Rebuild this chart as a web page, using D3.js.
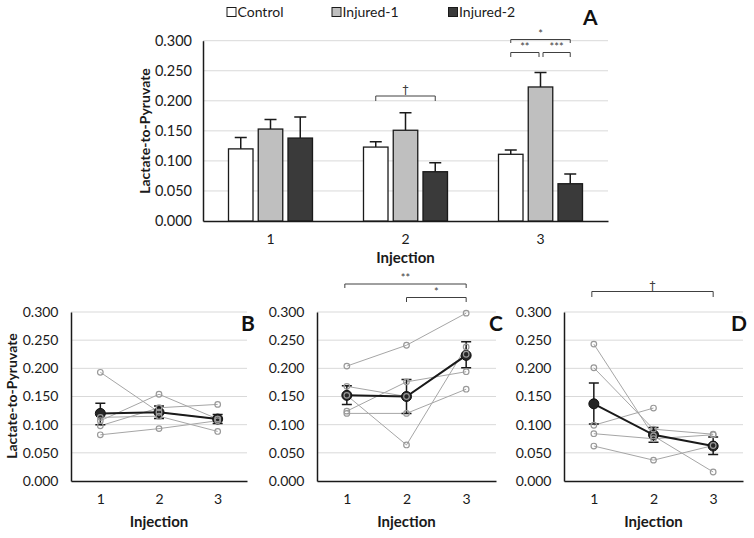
<!DOCTYPE html>
<html><head><meta charset="utf-8">
<script src="https://cdn.jsdelivr.net/npm/d3@7"></script>
<style>
body{margin:0;background:#fff;}
svg{font-family:Lato,"Open Sans",sans-serif;}
</style></head>
<body>
<svg id="chart" width="754" height="538"></svg>
<script>
// ---------- data ----------
const injections = ["1", "2", "3"];
const series = ["Control", "Injured-1", "Injured-2"];
const seriesColors = ["#ffffff", "#bfbfbf", "#3a3a3a"];
const controlMean = [0.120, 0.123, 0.111];
const injured1Mean = [0.153, 0.151, 0.223];
const injured2Mean = [0.138, 0.082, 0.062];
const controlErr = [0.019, 0.009, 0.007];
const injured1Err = [0.016, 0.029, 0.024];
const injured2Err = [0.035, 0.015, 0.016];
const yTicks = [0, 0.05, 0.10, 0.15, 0.20, 0.25, 0.30];

const panelBSubjects = [[0.193,0.122,0.110],[0.107,0.154,0.110],[0.098,0.130,0.136],[0.113,0.115,0.088],[0.082,0.093,0.107]];
const panelBMean = [0.120, 0.122, 0.110];
const panelBLow  = [0.100, 0.111, 0.102];
const panelBHigh = [0.138, 0.133, 0.118];

const panelCSubjects = [[0.204,0.241,0.298],[0.168,0.150,0.225],[0.124,0.176,0.194],[0.120,0.120,0.163],[0.152,0.064,0.238]];
const panelCMean = [0.152, 0.150, 0.223];
const panelCLow  = [0.136, 0.120, 0.201];
const panelCHigh = [0.169, 0.180, 0.247];

const panelDSubjects = [[0.243,0.080,0.016],[0.201,0.092,0.083],[0.099,0.1295,null],[0.084,0.075,0.082],[0.062,0.037,0.063]];
const panelDMean = [0.137, 0.082, 0.062];
const panelDLow  = [0.101, 0.069, 0.047];
const panelDHigh = [0.174, 0.095, 0.078];

// ---------- drawing ----------
const svg = d3.select("#chart");
const fmt = d3.format(".3f");
const gridColor = "#d9d9d9", axisColor = "#1a1a1a", textColor = "#1a1a1a";

function drawFrame(g, x, y, left, right, top, bottom, labelGap, fs) {
  g.append("g").selectAll("line").data(yTicks.filter(d => d > 0)).join("line")
    .attr("x1", left).attr("x2", right)
    .attr("y1", d => y(d)).attr("y2", d => y(d))
    .attr("stroke", gridColor).attr("stroke-width", 1);
  const ya = g.append("g").attr("transform", `translate(${left},0)`)
    .call(d3.axisLeft(y).tickValues(yTicks).tickFormat(fmt).tickSize(0).tickPadding(labelGap));
  ya.select(".domain").attr("stroke", axisColor).attr("stroke-width", 1.5);
  ya.selectAll("text").attr("font-size", fs).attr("fill", textColor).attr("font-family", "Lato");
  const xa = g.append("g").attr("transform", `translate(0,${bottom})`)
    .call(d3.axisBottom(x).tickSize(0).tickPadding(13));
  xa.select(".domain").attr("stroke", axisColor).attr("stroke-width", 1.5);
  xa.selectAll("text").attr("font-size", 14).attr("fill", textColor).attr("font-family", "Lato");
}

function bracket(g, x1, x2, yy, leg, label, fs, fam) {
  g.append("path")
    .attr("d", `M${x1},${yy+leg}V${yy}H${x2}V${yy+leg}`)
    .attr("fill", "none").attr("stroke", "#404040").attr("stroke-width", 1);
  g.append("text").attr("x", (x1+x2)/2).attr("y", yy - 2)
    .attr("text-anchor", "middle").attr("font-size", fs || 12).attr("fill", "#404040")
    .attr("font-family", fam || "Lato")
    .text(label);
}

// ---- Panel A ----
(function() {
  const left = 203, right = 608, top = 40.7, bottom = 221;
  const g = svg.append("g");
  const x0 = d3.scaleBand().domain(injections).range([left, right]);
  const x1 = d3.scaleBand().domain(series).range([0, x0.bandwidth()])
    .paddingInner(0.176).paddingOuter(0.857);
  const y = d3.scaleLinear().domain([0, 0.3]).range([bottom, top]);
  drawFrame(g, x0, y, left, right, top, bottom, 11, 14.5);

  const means = [controlMean, injured1Mean, injured2Mean];
  const errs = [controlErr, injured1Err, injured2Err];
  const rows = [];
  series.forEach((s, si) => injections.forEach((inj, ii) =>
    rows.push({s, si, inj, v: means[si][ii], e: errs[si][ii]})));

  const gb = g.append("g");
  gb.selectAll("path.err").data(rows).join("path").attr("class", "err")
    .attr("d", d => {
      const cx = x0(d.inj) + x1(d.s) + x1.bandwidth()/2;
      return `M${cx},${y(d.v)}V${y(d.v+d.e)}M${cx-6},${y(d.v+d.e)}H${cx+6}`;
    })
    .attr("stroke", "#1a1a1a").attr("stroke-width", 1.5).attr("fill", "none");
  gb.selectAll("rect").data(rows).join("rect")
    .attr("x", d => x0(d.inj) + x1(d.s))
    .attr("width", x1.bandwidth())
    .attr("y", d => y(d.v))
    .attr("height", d => y(0) - y(d.v))
    .attr("fill", d => seriesColors[d.si])
    .attr("stroke", "#1a1a1a").attr("stroke-width", 1.3);

  const cx = (inj, s) => x0(inj) + x1(s) + x1.bandwidth()/2;
  bracket(g, cx("2","Control"), cx("2","Injured-2"), 96, 5, "†", 12, "DejaVu Sans");
  bracket(g, cx("3","Control"), cx("3","Injured-2"), 39.5, 3.5, "*", 11);
  bracket(g, cx("3","Control"), cx("3","Injured-1") - 1.5, 52.5, 4.5, "**", 11);
  bracket(g, cx("3","Injured-1") + 2.5, cx("3","Injured-2"), 52.5, 4.5, "***", 11);

  g.append("text").attr("transform", `translate(150,131) rotate(-90)`)
    .attr("text-anchor", "middle").attr("font-size", 14).attr("font-weight", "bold")
    .attr("fill", textColor).text("Lactate-to-Pyruvate");
  g.append("text").attr("x", x0("2") + x0.bandwidth()/2).attr("y", 263)
    .attr("text-anchor", "middle").attr("font-size", 15).attr("font-weight", "bold")
    .attr("fill", textColor).text("Injection");
  g.append("text").attr("x", 583).attr("y", 25).attr("font-size", 21).attr("font-weight", "bold")
    .attr("fill", "#111").text("A");

  const legX = [227, 332, 448.5];
  const lg = g.append("g").selectAll("g").data(series).join("g")
    .attr("transform", (d, i) => `translate(${legX[i]},7.5)`);
  lg.append("rect").attr("width", 9).attr("height", 9)
    .attr("fill", (d, i) => seriesColors[i]).attr("stroke", "#1a1a1a").attr("stroke-width", 1);
  lg.append("text").attr("x", 10.5).attr("y", 9.5).attr("font-size", 14)
    .attr("fill", textColor).text(d => d);
})();

// ---- Panels B, C, D ----
function drawPanel(opts) {
  const {left, right, top, bottom, subjects, mean, low, high, letter, letterX, showYLabel} = opts;
  const g = svg.append("g");
  const x = d3.scalePoint().domain(injections).range([left, right]).padding(0.5);
  const y = d3.scaleLinear().domain([0, 0.3]).range([bottom, top]);
  drawFrame(g, x, y, left, right, top, bottom, 12.5, 14);

  const line = d3.line().defined(d => d.v !== null).x(d => x(d.inj)).y(d => y(d.v));
  const subjRows = subjects.map(arr => arr.map((v, i) => ({inj: injections[i], v})));
  g.append("g").selectAll("path").data(subjRows).join("path")
    .attr("d", line).attr("fill", "none").attr("stroke", "#a6a6a6").attr("stroke-width", 1);

  const meanRows = mean.map((v, i) => ({inj: injections[i], v, lo: low[i], hi: high[i]}));
  g.append("path").datum(meanRows).attr("d", line)
    .attr("fill", "none").attr("stroke", "#1a1a1a").attr("stroke-width", 2);
  g.append("g").selectAll("path").data(meanRows).join("path")
    .attr("d", d => `M${x(d.inj)},${y(d.lo)}V${y(d.hi)}M${x(d.inj)-5},${y(d.hi)}H${x(d.inj)+5}M${x(d.inj)-5},${y(d.lo)}H${x(d.inj)+5}`)
    .attr("stroke", "#1a1a1a").attr("stroke-width", 1.5).attr("fill", "none");
  g.append("g").selectAll("circle").data(meanRows).join("circle")
    .attr("cx", d => x(d.inj)).attr("cy", d => y(d.v)).attr("r", 5)
    .attr("fill", "#262626").attr("stroke", "#111").attr("stroke-width", 1);

  const pts = subjRows.flat().filter(d => d.v !== null);
  g.append("g").selectAll("circle").data(pts).join("circle")
    .attr("cx", d => x(d.inj)).attr("cy", d => y(d.v)).attr("r", 2.8)
    .attr("fill", "none").attr("stroke", "#999").attr("stroke-width", 1.2);

  g.append("text").attr("x", (left+right)/2).attr("y", 527)
    .attr("text-anchor", "middle").attr("font-size", 15).attr("font-weight", "bold")
    .attr("fill", textColor).text("Injection");
  g.append("text").attr("x", letterX).attr("y", 331).attr("font-size", 21).attr("font-weight", "bold")
    .attr("fill", "#111").text(letter);
  if (showYLabel) {
    g.append("text").attr("transform", `translate(17,396) rotate(-90)`)
      .attr("text-anchor", "middle").attr("font-size", 14).attr("font-weight", "bold")
      .attr("fill", textColor).text("Lactate-to-Pyruvate");
  }
  return {g, x};
}

drawPanel({left: 71, right: 247, top: 312, bottom: 481, subjects: panelBSubjects,
  mean: panelBMean, low: panelBLow, high: panelBHigh, letter: "B", letterX: 241, showYLabel: true});
const pc = drawPanel({left: 317, right: 496, top: 312, bottom: 481, subjects: panelCSubjects,
  mean: panelCMean, low: panelCLow, high: panelCHigh, letter: "C", letterX: 489, showYLabel: false});
bracket(pc.g, pc.x("1") - 2, pc.x("3"), 284, 4, "**", 11);
bracket(pc.g, pc.x("2"), pc.x("3"), 297.5, 4.5, "*", 11);
const pd = drawPanel({left: 564, right: 743, top: 312, bottom: 481, subjects: panelDSubjects,
  mean: panelDMean, low: panelDLow, high: panelDHigh, letter: "D", letterX: 731, showYLabel: false});
bracket(pd.g, pd.x("1") - 2, pd.x("3"), 291.5, 5.5, "†", 12, "DejaVu Sans");
</script>
</body></html>
